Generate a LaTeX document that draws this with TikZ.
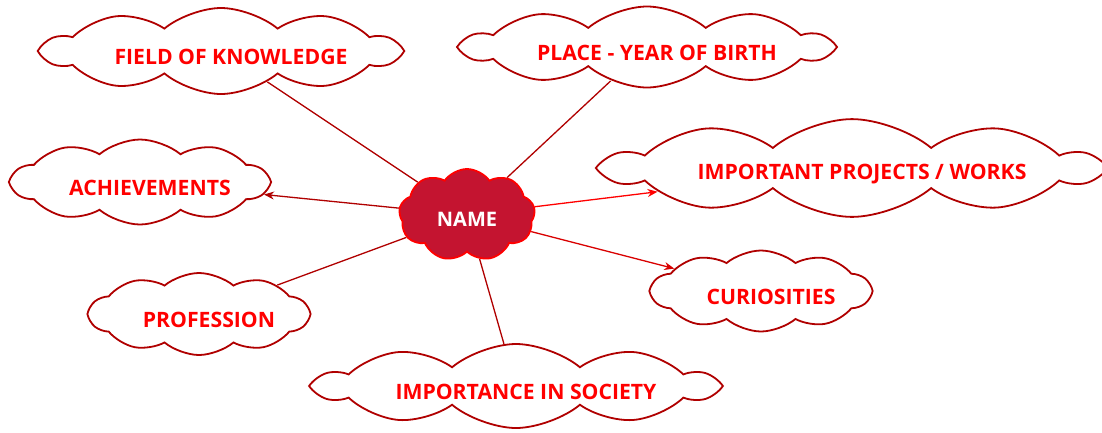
\documentclass[tikz,border=0pt]{standalone}
\usepackage{fontspec}
\setmainfont{Open Sans}
\usetikzlibrary{shapes.symbols}
\usetikzlibrary{arrows.meta}
\definecolor{cloudLine}{RGB}{176,0,0}
\definecolor{cloudText}{RGB}{255,0,0}
\definecolor{nameFill}{RGB}{196,20,48}
\begin{document}
\begin{tikzpicture}[x=1pt,y=-1pt]

          \tikzstyle{topicNode} = [cloud, cloud puffs=10, cloud puff arc=80, cloud ignores aspect, draw=cloudLine, line width=1.8pt, fill=white, text=cloudText, font=\fontsize{21.2}{24}\selectfont\bfseries, inner sep=0pt, execute at begin node={\rule{0pt}{27pt}\hspace*{20pt}}];
          \tikzstyle{nameNode} = [cloud, cloud puffs=9, cloud puff arc=110, cloud ignores aspect, draw=red, line width=1.8pt, fill=nameFill, text=white, font=\fontsize{20}{24}\selectfont\bfseries, inner sep=0pt, execute at begin node={\rule{0pt}{22pt}}];

          \tikzstyle{normalEdge} = [cloudLine, line width=1.3pt];
          \tikzstyle{arrowEdge} = [line width=1.3pt, -{Stealth[length=10pt,width=8pt]}];

          \useasboundingbox (0,0) rectangle (1102,432);

          \node[nameNode, minimum width=136pt, minimum height=92pt] (name) at (467,215) {NAME};
          \node[topicNode, minimum width=354pt, minimum height=86pt] (field) at (221,51) {FIELD OF KNOWLEDGE};
          \node[topicNode, minimum width=366pt, minimum height=81pt] (place) at (647,47) {PLACE - YEAR OF BIRTH};
          \node[topicNode, minimum width=492pt, minimum height=85pt] (works) at (852,168) {IMPORTANT PROJECTS / WORKS};
          \node[topicNode, minimum width=256pt, minimum height=85pt] (achieve) at (140,182) {ACHIEVEMENTS};
          \node[topicNode, minimum width=219pt, minimum height=81pt] (curio) at (761,291) {CURIOSITIES};
          \node[topicNode, minimum width=219pt, minimum height=82pt] (prof) at (199,314) {PROFESSION};
          \node[topicNode, minimum width=398pt, minimum height=84pt] (society) at (516,386) {IMPORTANCE IN SOCIETY};

          \draw[normalEdge] (name) -- (field);
          \draw[normalEdge] (name) -- (place);
          \draw[arrowEdge, red] (name) -- (works);
          \draw[arrowEdge, cloudLine] (name) -- (achieve);
          \draw[arrowEdge, red!85!black] (name) -- (curio);
          \draw[normalEdge] (name) -- (prof);
          \draw[normalEdge] (name) -- (society);
        \end{tikzpicture}
\end{document}
